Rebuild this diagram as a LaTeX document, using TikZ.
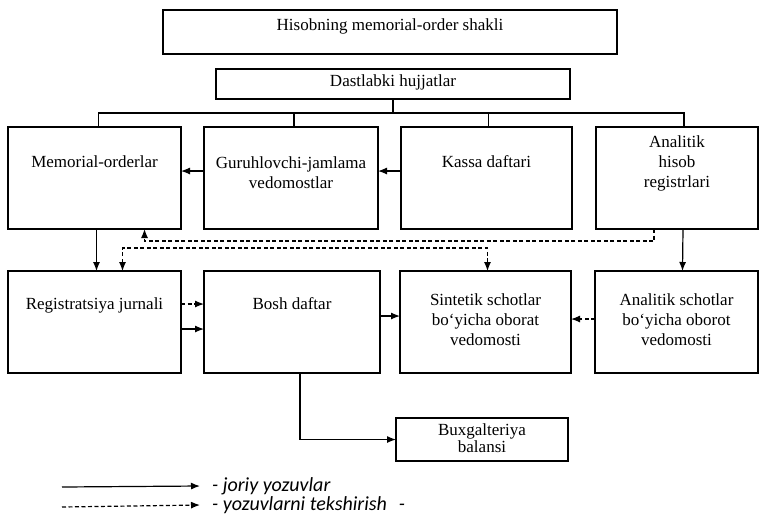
\documentclass[tikz,border=0pt]{standalone}
\usepackage{fontspec}
\setmainfont{Liberation Serif}
\newfontfamily\legendfont{Carlito}
\usetikzlibrary{positioning,arrows.meta}

\begin{document}
\begin{tikzpicture}[
    x=1pt, y=-1pt,
    box/.style={
        draw,
        line width=1.3pt,
        minimum height=102pt,
        inner sep=0pt,
        outer sep=0pt
    },
    lbl/.style={
        align=center,
        inner sep=0pt,
        anchor=north,
        font=\fontsize{17}{20}\selectfont
    },
    arrow/.style={
        -{Latex[length=9pt,width=7pt]},
        line width=1.2pt
    },
    check/.style={
        arrow,
        dash pattern=on 4pt off 2.5pt
    },
    link/.style={
        line width=1.2pt
    },
    legend/.style={
        anchor=west,
        inner xsep=12pt,
        font=\legendfont\itshape\fontsize{20}{22}\selectfont
    }
]
\useasboundingbox (0,0) rectangle (760,515);

% Nodes
\node (title) [box, minimum width=454pt, minimum height=44pt,
    label={[lbl, yshift=-8pt]north:Hisobning memorial-order shakli}] at (390,32) {};
\node (dast)  [box, minimum width=354pt, minimum height=30pt,
    label={[lbl, yshift=-5pt]north:Dastlabki hujjatlar}] at (393,84) {};

\node (memo)  [box, minimum width=173pt, anchor=north west,
    label={[lbl, yshift=-28pt]north:Memorial-orderlar}] at (8,127) {};
\node (gur)   [box, minimum width=174pt, right=23pt of memo,
    label={[lbl, yshift=-29pt]north:Guruhlovchi-jamlama\\vedomostlar}] {};
\node (kassa) [box, minimum width=171pt, right=23pt of gur,
    label={[lbl, yshift=-28pt]north:Kassa daftari}] {};
\node (anreg) [box, minimum width=162pt, right=24pt of kassa,
    label={[lbl, yshift=-8pt]north:Analitik\\hisob\\registrlari}] {};

\node (reg)   [box, minimum width=173pt, below=42pt of memo,
    label={[lbl, yshift=-26pt]north:Registratsiya jurnali}] {};
\node (bosh)  [box, minimum width=176pt, right=23pt of reg,
    label={[lbl, yshift=-26pt]north:Bosh daftar}] {};
\node (sint)  [box, minimum width=171pt, right=20pt of bosh,
    label={[lbl, yshift=-22pt]north:Sintetik schotlar\\bo‘yicha oborat\\vedomosti}] {};
\node (ansch) [box, minimum width=163pt, right=24pt of sint,
    label={[lbl, yshift=-22pt]north:Analitik schotlar\\bo‘yicha oborot\\vedomosti}] {};

\node (bux)   [box, minimum width=172pt, minimum height=43pt,
    label={[lbl, yshift=-5pt, font=\fontsize{17}{17}\selectfont]north:Buxgalteriya\\balansi}] at (482,439.5) {};

% Legend
\coordinate (l1) at (62,487);
\coordinate (l2) at (62,507);
\node (leg1) [legend, yshift=1pt] at (200,487) {- joriy yozuvlar};
\node (leg2) [legend, yshift=2pt] at (200,507) {- yozuvlarni tekshirish\hspace{12pt}-};

% Arrows
\draw[link] (dast.south) -- ++(0,14) coordinate (bus);
\draw[link] ([xshift=4pt]memo.north) |- (bus) -| ([xshift=7pt]anreg.north);
\foreach \n/\dx in {gur/3pt, kassa/2pt}
    \draw[link] ([xshift=\dx]\n.north) -- ++(0,-14);

\draw[arrow] ([yshift=7pt]gur.west) -- ([yshift=7pt]memo.east);
\draw[arrow] ([yshift=7pt]kassa.west) -- ([yshift=7pt]gur.east);
\draw[arrow] ([xshift=2pt]memo.south) -- ([xshift=2pt]reg.north);
\draw[arrow] ([xshift=6pt]anreg.south) -- ([xshift=6pt]ansch.north);

\draw[check] ([yshift=18pt]reg.east) -- ([yshift=18pt]bosh.west);
\draw[arrow] ([yshift=-7pt]reg.east) -- ([yshift=-7pt]bosh.west);
\draw[arrow] ([yshift=6pt]bosh.east) -- ([yshift=6pt]sint.west);
\draw[check] ([yshift=3pt]ansch.west) -- ([yshift=3pt]sint.east);
\draw[arrow] ([xshift=8pt]bosh.south) |- (bux.west);

\draw[check] ([xshift=-23pt]anreg.south) -- ++(0,12) -| ([xshift=50pt]memo.south);
\draw[check, {Latex[length=9pt,width=7pt]}-{Latex[length=9pt,width=7pt]}]
    ([xshift=28pt]reg.north) -- ++(0,-23) -| ([xshift=2pt]sint.north);

\draw[arrow] (l1) -- (leg1.west);
\draw[check] (l2) -- (leg2.west);

\end{tikzpicture}
\end{document}
